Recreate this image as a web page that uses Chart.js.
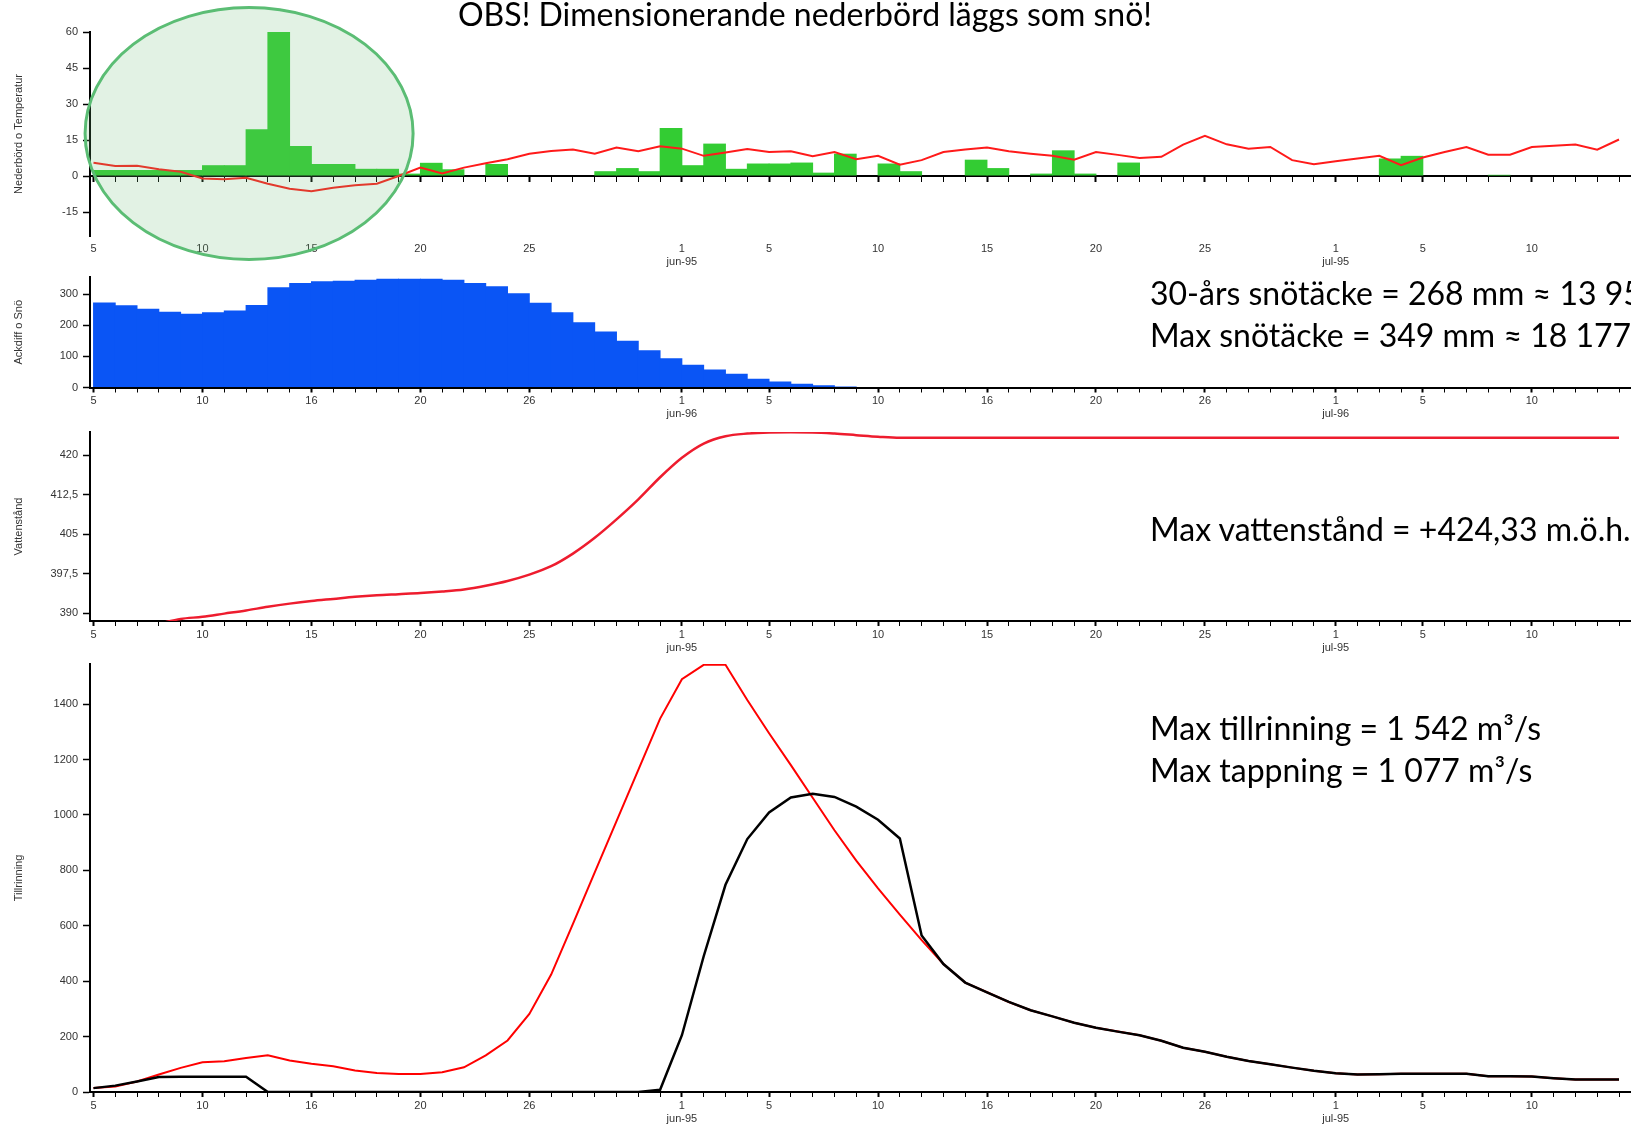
<!DOCTYPE html>
<html>
<head>
<meta charset="utf-8">
<script src="https://cdn.jsdelivr.net/npm/chart.js@4.4.0/dist/chart.umd.min.js"></script>
<style>
html, body { margin: 0; padding: 0; background: #fff; }
body { width: 1631px; height: 1129px; position: relative; overflow: hidden; }
canvas { position: absolute; left: 0; }
.note { position: absolute; font-family: Lato, "Open Sans", sans-serif; font-size: 32px; line-height: 38px; color: #000; white-space: nowrap; }
</style>
</head>
<body>
<canvas id="p1" width="1631" height="290" style="top:0px"></canvas>
<canvas id="p2" width="1631" height="160" style="top:265px"></canvas>
<canvas id="p3" width="1631" height="240" style="top:420px"></canvas>
<canvas id="p4" width="1631" height="479" style="top:650px"></canvas>

<div class="note" style="left:458px; top:-5px">OBS! Dimensionerande nederbörd läggs som snö!</div>
<div class="note" style="left:1150px; top:274px">30-års snötäcke = 268 mm ≈ 13 95</div>
<div class="note" style="left:1150px; top:316px">Max snötäcke = 349 mm ≈ 18 177</div>
<div class="note" style="left:1150px; top:510px">Max vattenstånd = +424,33 m.ö.h.</div>
<div class="note" style="left:1150px; top:709px">Max tillrinning = 1 542 m³/s</div>
<div class="note" style="left:1150px; top:751px">Max tappning = 1 077 m³/s</div>

<script>
// day 0 = 5 maj, day 70 = 14 jul
const days = Array.from({length: 71}, (_, i) => i);

const tickDays = [0, 5, 10, 15, 20, 27, 31, 36, 41, 46, 51, 57, 61, 66];
const tickLabelsA = ['5', '10', '15', '20', '25', ['1', 'jun-95'], '5', '10', '15', '20', '25', ['1', 'jul-95'], '5', '10'];
const tickLabelsB = ['5', '10', '16', '20', '26', ['1', 'jun-96'], '5', '10', '16', '20', '26', ['1', 'jul-96'], '5', '10'];
const tickLabelsD = ['5', '10', '16', '20', '26', ['1', 'jun-95'], '5', '10', '16', '20', '26', ['1', 'jul-95'], '5', '10'];

// nederbörd (mm/dygn)
const precip = [2.5, 2.5, 2.5, 2.5, 2.5, 4.5, 4.5, 19.5, 60, 12.5,
  5, 5, 3, 3, 1, 5.5, 2.8, 0, 5, 0,
  0, 0, 0, 2, 3.3, 2, 20, 4.5, 13.5, 3,
  5.2, 5.2, 5.6, 1.4, 9.3, 0, 5.2, 2, 0, 0,
  6.8, 3.3, 0, 1, 10.7, 1, 0, 5.6, 0, 0,
  0, 0, 0, 0, 0, 0, 0, 0, 0, 7.3,
  8.4, 0, 0, 0, 0.5, 0, 0, 0, 0, 0, 0];

// temperatur (°C)
const temp = [5.5, 4.2, 4.3, 2.8, 1.8, -1.0, -1.4, -0.7, -3.2, -5.3,
  -6.3, -4.9, -3.9, -3.2, 0, 3.5, 1.1, 3.5, 5.3, 7,
  9.3, 10.4, 11, 9.3, 11.9, 10.3, 12.4, 11.4, 8.4, 9.8,
  11.2, 10, 10.3, 8.2, 10, 7, 8.4, 4.7, 6.6, 10,
  11, 11.9, 10.3, 9.3, 8.4, 6.8, 10, 8.8, 7.5, 8,
  13.1, 16.7, 13.2, 11.4, 12.1, 6.6, 4.9, 6.1, 7.3, 8.4,
  4.5, 7.7, 10, 12.1, 8.9, 8.9, 12.1, 12.6, 13.1, 11, 15.2];

// ackumulerad differens / snö (mm)
const snow = [273, 264, 253, 243, 237, 242, 247, 265, 322, 336,
  341, 343, 346, 349, 349, 349, 346, 336, 325, 303,
  272, 242, 210, 180, 150, 120, 94, 73, 58, 44,
  28, 19, 12, 7, 3, 2, 0, 0, 0, 0,
  0, 0, 0, 0, 0, 0, 0, 0, 0, 0,
  0, 0, 0, 0, 0, 0, 0, 0, 0, 0,
  0, 0, 0, 0, 0, 0, 0, 0, 0, 0, 0];

// vattenstånd (m.ö.h.)
const level = [null, null, null, 388.0, 388.9, 389.3, 389.9, 390.5, 391.2, 391.8,
  392.3, 392.7, 393.1, 393.4, 393.6, 393.8, 394.1, 394.5, 395.2, 396.1,
  397.3, 398.9, 401.3, 404.3, 407.8, 411.6, 415.8, 419.5, 422.2, 423.6,
  424.1, 424.3, 424.33, 424.3, 424.1, 423.8, 423.5, 423.3, 423.3, 423.3,
  423.3, 423.3, 423.3, 423.3, 423.3, 423.3, 423.3, 423.3, 423.3, 423.3,
  423.3, 423.3, 423.3, 423.3, 423.3, 423.3, 423.3, 423.3, 423.3, 423.3,
  423.3, 423.3, 423.3, 423.3, 423.3, 423.3, 423.3, 423.3, 423.3, 423.3, 423.3];

// tillrinning (m3/s)
const inflow = [14, 20, 38, 63, 87, 107, 111, 123, 133, 114,
  102, 93, 78, 69, 65, 65, 71, 89, 132, 186,
  282, 424, 607, 793, 978, 1163, 1348, 1490, 1542, 1542,
  1415, 1295, 1180, 1062, 945, 835, 735, 640, 548, 462,
  395, 360, 325, 295, 273, 250, 232, 218, 205, 185,
  160, 145, 127, 112, 100, 88, 77, 68, 63, 64,
  66, 66, 66, 66, 57, 57, 56, 50, 45, 45, 45];

// tappning (m3/s)
const outflow = [14, 23, 38, 54, 55, 55, 55, 55, 0, 0,
  0, 0, 0, 0, 0, 0, 0, 0, 0, 0,
  0, 0, 0, 0, 0, 0, 8, 205, 490, 748,
  913, 1009, 1063, 1077, 1065, 1030, 983, 915, 565, 462,
  395, 360, 325, 295, 273, 250, 232, 218, 205, 185,
  160, 145, 127, 112, 100, 88, 77, 68, 63, 64,
  66, 66, 66, 66, 57, 57, 56, 50, 45, 45, 45];

const DAY_MIN = -0.16, DAY_MAX = 70.55;
const FONT = { family: '"Liberation Sans", Arial, sans-serif', size: 11 };
const INK = '#333';

function pts(arr, shift) {
  return days.map((d, i) => ({ x: d + (shift || 0), y: arr[i] }));
}

function xAxis(labels, padding, extra) {
  return Object.assign({
    type: 'linear',
    min: DAY_MIN,
    max: DAY_MAX,
    offset: false,
    afterBuildTicks: s => { s.ticks = days.map(v => ({ value: v })); },
    ticks: {
      autoSkip: false, maxRotation: 0, minRotation: 0, padding: padding,
      color: INK, font: FONT,
      callback: v => { const i = tickDays.indexOf(v); return i < 0 ? '' : labels[i]; }
    },
    grid: {
      offset: false, drawOnChartArea: false, tickLength: 5, tickColor: '#000',
      tickWidth: c => (c.tick && tickDays.includes(c.tick.value)) ? 2 : 1
    },
    border: { color: '#000', width: 2 }
  }, extra);
}

function yAxis(title, min, max, ticks, fmt) {
  return {
    min: min,
    max: max,
    afterBuildTicks: s => { s.ticks = ticks.map(v => ({ value: v })); },
    afterFit: s => { s.width = 90; },
    ticks: { padding: 5, color: INK, font: FONT, callback: fmt || (v => v) },
    grid: { drawOnChartArea: false, tickLength: 7, tickColor: '#000', tickWidth: 1.5 },
    border: { color: '#000', width: 2 },
    title: { display: true, text: title, color: INK, font: FONT, padding: { top: 12, bottom: 0 } }
  };
}

const base = {
  responsive: false,
  animation: false,
  plugins: { legend: { display: false }, tooltip: { enabled: false } },
  elements: { point: { radius: 0 } }
};

// markering runt den dimensionerande nederbörden
const RING = { day: 7.14, value: 17.7, rx: 164, ry: 126 };
const ringPlugin = {
  id: 'ring',
  afterDraw(chart) {
    const ctx = chart.ctx;
    const cx = chart.scales.x.getPixelForValue(RING.day);
    const cy = chart.scales.y.getPixelForValue(RING.value);
    ctx.save();
    ctx.beginPath();
    ctx.ellipse(cx, cy, RING.rx, RING.ry, 0, 0, Math.PI * 2);
    ctx.fillStyle = 'rgba(112, 190, 120, 0.2)';
    ctx.fill();
    ctx.lineWidth = 3;
    ctx.strokeStyle = '#5bbd74';
    ctx.stroke();
    ctx.restore();
  }
};

new Chart(document.getElementById('p1'), {
  type: 'bar',
  data: {
    datasets: [
      { type: 'line', data: pts(temp), borderColor: '#ff1a1a', borderWidth: 2, tension: 0 },
      { data: pts(precip, 0.5), backgroundColor: '#33cc33', borderWidth: 0, barPercentage: 1.04, categoryPercentage: 1 }
    ]
  },
  options: Object.assign({}, base, {
    layout: { padding: { top: 32, bottom: 54, left: 0, right: 0 } },
    scales: {
      // axeln ligger på y = 0, etiketterna längst ner
      x: xAxis(tickLabelsA, 61, {
        position: { y: 0 },
        afterFit: s => { s.paddingLeft = 0; s.paddingRight = 0; }
      }),
      y: yAxis('Nederbörd o Temperatur', -25, 60, [-15, 0, 15, 30, 45, 60])
    }
  }),
  plugins: [ringPlugin]
});

new Chart(document.getElementById('p2'), {
  type: 'bar',
  data: {
    datasets: [
      { data: pts(snow, 0.5), backgroundColor: '#0a55f5', borderWidth: 0, barPercentage: 1.04, categoryPercentage: 1 }
    ]
  },
  options: Object.assign({}, base, {
    layout: { padding: { top: 12, bottom: 0, left: 0, right: 0 } },
    scales: {
      x: xAxis(tickLabelsB, 2, { afterFit: s => { s.height = 37.5; } }),
      y: yAxis('Ackdiff o Snö', 0, 355, [0, 100, 200, 300])
    }
  })
});

new Chart(document.getElementById('p3'), {
  type: 'line',
  data: {
    datasets: [
      { data: pts(level), borderColor: '#ee1c2e', borderWidth: 2.5, cubicInterpolationMode: 'monotone' }
    ]
  },
  options: Object.assign({}, base, {
    layout: { padding: { top: 12, bottom: 0, left: 0, right: 0 } },
    scales: {
      x: xAxis(tickLabelsA, 2, { afterFit: s => { s.height = 39; } }),
      y: yAxis('Vattenstånd', 388.5, 424.4, [390, 397.5, 405, 412.5, 420], v => String(v).replace('.', ','))
    }
  })
});

new Chart(document.getElementById('p4'), {
  type: 'line',
  data: {
    datasets: [
      { data: pts(outflow), borderColor: '#000', borderWidth: 2.5, tension: 0 },
      { data: pts(inflow), borderColor: '#ff0000', borderWidth: 2, tension: 0 }
    ]
  },
  options: Object.assign({}, base, {
    layout: { padding: { top: 14, bottom: 0, left: 0, right: 0 } },
    scales: {
      x: xAxis(tickLabelsD, 2, { afterFit: s => { s.height = 37; } }),
      y: yAxis('Tillrinning', 0, 1545, [0, 200, 400, 600, 800, 1000, 1200, 1400])
    }
  })
});
</script>
</body>
</html>
